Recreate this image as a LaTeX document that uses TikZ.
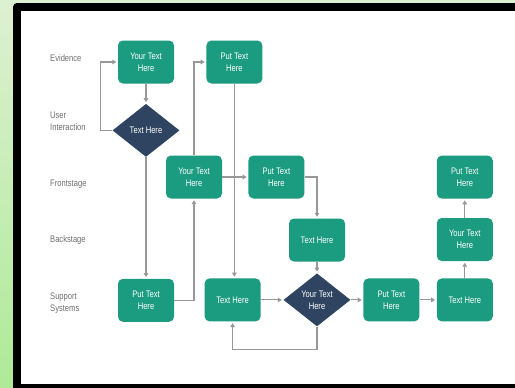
\documentclass[tikz,border=0pt]{standalone}
\usepackage{fontspec}
\setmainfont{Liberation Sans}[FakeStretch=0.8]
\usepackage{xcolor}
\usetikzlibrary{shapes.geometric,arrows.meta,positioning}
\definecolor{boxteal}{RGB}{27,155,127}
\definecolor{decnavy}{RGB}{46,68,97}
\definecolor{flowgray}{RGB}{152,152,152}
\definecolor{lanegray}{RGB}{112,112,112}
\definecolor{bgtop}{RGB}{222,240,210}
\definecolor{bgbottom}{RGB}{174,234,152}
\tikzset{
    % Define standard node styles
    stepbox/.style={
        rectangle, fill=boxteal, draw=none,
        minimum width=56pt, minimum height=43pt, inner sep=0pt,
        rounded corners=5pt, align=center, text=white,
        font=\fontsize{9.5}{12}\selectfont
    },
    decbox/.style={
        diamond, fill=decnavy, draw=none,
        minimum width=67pt, minimum height=53pt, inner sep=0pt,
        aspect=1.26, align=center, text=white,
        font=\fontsize{9.5}{12}\selectfont
    },
    lane/.style={
        anchor=west, align=left, text=lanegray, inner sep=0pt,
        font=\fontsize{9.5}{12}\selectfont
    },
    flow/.style={
        -{Triangle[length=4pt,width=4.5pt]}, line width=1.1pt,
        color=flowgray, shorten >=1.5pt
    }
}
\begin{document}
\begin{tikzpicture}[x=1pt, y=-1pt]

% Background and frame
\useasboundingbox (0,0) rectangle (515,388);
\shade[top color=bgtop, bottom color=bgbottom] (0,0) rectangle (515,388);
\fill[black, rounded corners=4pt] (13,3) rectangle (540,400);
\fill[white] (21,11) rectangle (515,383.5);

% Swimlane labels
\node[lane] (lane_evidence) at (50,58) {Evidence};
\node[lane] (lane_user) at (50,121) {User\\Interaction};
\node[lane] (lane_front) at (50,184) {Frontstage};
\node[lane] (lane_back) at (50,240) {Backstage};
\node[lane] (lane_support) at (50,303) {Support\\Systems};

% Left part of the journey
\node[stepbox] (ev_first) at (146,62) {Your Text\\Here};
\node[stepbox, right=32pt of ev_first] (ev_second) {Put Text\\Here};
\node[decbox, below=20pt of ev_first] (user_dec) {Text Here};
\node[stepbox, below=121.5pt of user_dec] (sup_first) {Put Text\\Here};
\node[stepbox] (front_first) at (194,177) {Your Text\\Here};
\node[stepbox, right=26pt of front_first] (front_second) {Put Text\\Here};

% Right part of the journey
\node[stepbox] (back_first) at (317,240) {Text Here};
\node[decbox, below=11.5pt of back_first] (sup_dec) {Your Text\\Here};
\node[stepbox, left=22.5pt of sup_dec] (sup_second) {Text Here};
\node[stepbox, right=12.5pt of sup_dec] (sup_third) {Put Text\\Here};
\node[stepbox, right=17pt of sup_third] (sup_fourth) {Text Here};
\node[stepbox, above=17pt of sup_fourth] (back_second) {Your Text\\Here};
\node[stepbox, above=19pt of back_second] (front_third) {Put Text\\Here};

% Main flow arrows
\draw[flow] (user_dec.west) -- ++(-11.5,0) |- (ev_first.west);
\draw[flow] (ev_first) -- (user_dec);
\draw[flow] (user_dec) -- (sup_first);
\draw[flow] (sup_first.east) -| (front_first.south);
\draw[flow] (front_first.north) |- (ev_second.west);
\draw[flow] (ev_second.south) -- (ev_second.south |- sup_second.north);
\draw[flow] (front_first) -- (front_second);
\draw[flow] (front_second.east) -| (back_first.north);
\draw[flow] (back_first) -- (sup_dec);
\draw[flow] (sup_second) -- (sup_dec);
\draw[flow] (sup_dec.south) -- ++(0,23) -| (sup_second.south);
\draw[flow] (sup_dec) -- (sup_third);
\draw[flow] (sup_third) -- (sup_fourth);
\draw[flow] (sup_fourth) -- (back_second);
\draw[flow] (back_second) -- (front_third);

\end{tikzpicture}
\end{document}
